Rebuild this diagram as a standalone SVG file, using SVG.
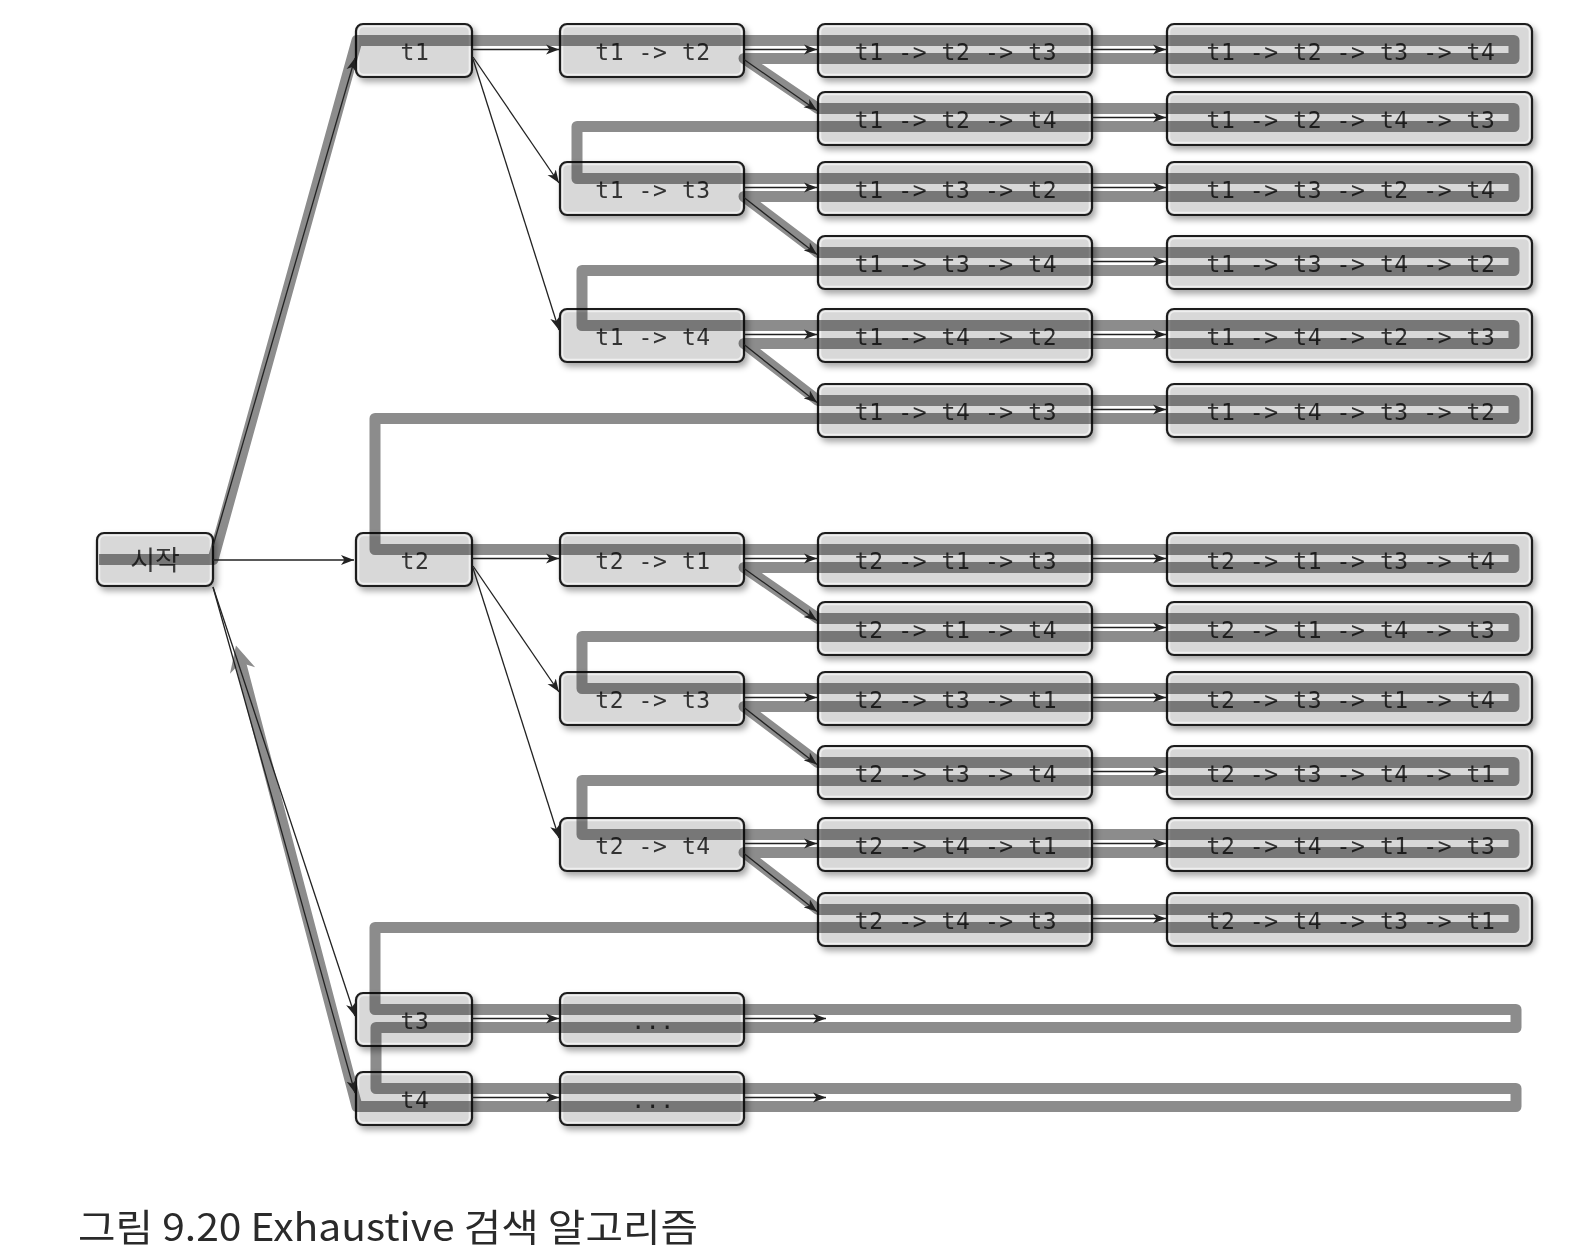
<svg xmlns="http://www.w3.org/2000/svg" width="1576" height="1258" viewBox="0 0 1576 1258">
<style>
.box{fill:#d8d8d8;stroke:#1f1f1f;stroke-width:2.2;filter:url(#sh)}
.hl{fill:none;stroke:#efefef;stroke-width:1.6}
.lbl{font-family:"DejaVu Sans Mono","Liberation Mono",monospace;font-size:23px;letter-spacing:0.6px;fill:#333;text-anchor:middle}
.ko{font-family:"Noto Sans CJK KR","Noto Sans",sans-serif;font-size:27px;fill:#3a3a3a;text-anchor:middle}
.route{fill:none;stroke:#8c8c8c;stroke-width:11;stroke-linejoin:round;marker-end:url(#barr)}
.edge{fill:none;stroke:#222;stroke-width:1.3;marker-end:url(#arr)}
.cap{font-family:"Noto Sans CJK KR","Noto Sans",sans-serif;font-size:38px;fill:#2a2a2a}
</style>
<defs>
<filter id="sh" x="-10%" y="-20%" width="130%" height="160%">
<feDropShadow dx="3" dy="4" stdDeviation="3" flood-color="#000" flood-opacity="0.35"/>
</filter>
<marker id="arr" markerUnits="userSpaceOnUse" markerWidth="14" markerHeight="12" viewBox="0 0 14 12" refX="13" refY="6" orient="auto">
<path d="M0,1 L13,6 L0,11 L3.5,6 z" fill="#222"/>
</marker>
<marker id="barr" markerUnits="userSpaceOnUse" markerWidth="30" markerHeight="30" viewBox="-2 -15 30 30" refX="14" refY="0" orient="auto">
<path d="M0,-13 L26,0 L0,13 L8,0 z" fill="#8c8c8c"/>
</marker>
</defs>
<rect x="0" y="0" width="1576" height="1258" fill="#fff"/>

<g id="nodes">
<g id="n-start"><rect class="box" x="97" y="533" width="116" height="53" rx="7"/><rect class="hl" x="99.5" y="535.5" width="111" height="48" rx="5"/><text class="ko" x="155" y="570">시작</text></g>

<g id="n-t1"><rect class="box" x="356" y="24" width="116" height="53" rx="7"/><rect class="hl" x="358.5" y="26.5" width="111" height="48" rx="5"/><text class="lbl" x="415" y="59.5">t1</text></g>
<g id="n-t2"><rect class="box" x="356" y="533" width="116" height="53" rx="7"/><rect class="hl" x="358.5" y="535.5" width="111" height="48" rx="5"/><text class="lbl" x="415" y="568.5">t2</text></g>
<g id="n-t3"><rect class="box" x="356" y="993" width="116" height="53" rx="7"/><rect class="hl" x="358.5" y="995.5" width="111" height="48" rx="5"/><text class="lbl" x="415" y="1028.5">t3</text></g>
<g id="n-t4"><rect class="box" x="356" y="1072" width="116" height="53" rx="7"/><rect class="hl" x="358.5" y="1074.5" width="111" height="48" rx="5"/><text class="lbl" x="415" y="1107.5">t4</text></g>

<g id="n-t1t2"><rect class="box" x="560" y="24" width="184" height="53" rx="7"/><rect class="hl" x="562.5" y="26.5" width="179" height="48" rx="5"/><text class="lbl" x="653" y="59.5">t1 -&gt; t2</text></g>
<g id="n-t1t3"><rect class="box" x="560" y="162" width="184" height="53" rx="7"/><rect class="hl" x="562.5" y="164.5" width="179" height="48" rx="5"/><text class="lbl" x="653" y="197.5">t1 -&gt; t3</text></g>
<g id="n-t1t4"><rect class="box" x="560" y="309" width="184" height="53" rx="7"/><rect class="hl" x="562.5" y="311.5" width="179" height="48" rx="5"/><text class="lbl" x="653" y="344.5">t1 -&gt; t4</text></g>
<g id="n-t2t1"><rect class="box" x="560" y="533" width="184" height="53" rx="7"/><rect class="hl" x="562.5" y="535.5" width="179" height="48" rx="5"/><text class="lbl" x="653" y="568.5">t2 -&gt; t1</text></g>
<g id="n-t2t3"><rect class="box" x="560" y="672" width="184" height="53" rx="7"/><rect class="hl" x="562.5" y="674.5" width="179" height="48" rx="5"/><text class="lbl" x="653" y="707.5">t2 -&gt; t3</text></g>
<g id="n-t2t4"><rect class="box" x="560" y="818" width="184" height="53" rx="7"/><rect class="hl" x="562.5" y="820.5" width="179" height="48" rx="5"/><text class="lbl" x="653" y="853.5">t2 -&gt; t4</text></g>
<g id="n-t3x"><rect class="box" x="560" y="993" width="184" height="53" rx="7"/><rect class="hl" x="562.5" y="995.5" width="179" height="48" rx="5"/><text class="lbl" x="653" y="1028.5">...</text></g>
<g id="n-t4x"><rect class="box" x="560" y="1072" width="184" height="53" rx="7"/><rect class="hl" x="562.5" y="1074.5" width="179" height="48" rx="5"/><text class="lbl" x="653" y="1107.5">...</text></g>

<g id="n-t1t2t3"><rect class="box" x="818" y="24" width="274" height="53" rx="7"/><rect class="hl" x="820.5" y="26.5" width="269" height="48" rx="5"/><text class="lbl" x="956" y="59.5">t1 -&gt; t2 -&gt; t3</text></g>
<g id="n-t1t2t4"><rect class="box" x="818" y="92" width="274" height="53" rx="7"/><rect class="hl" x="820.5" y="94.5" width="269" height="48" rx="5"/><text class="lbl" x="956" y="127.5">t1 -&gt; t2 -&gt; t4</text></g>
<g id="n-t1t3t2"><rect class="box" x="818" y="162" width="274" height="53" rx="7"/><rect class="hl" x="820.5" y="164.5" width="269" height="48" rx="5"/><text class="lbl" x="956" y="197.5">t1 -&gt; t3 -&gt; t2</text></g>
<g id="n-t1t3t4"><rect class="box" x="818" y="236" width="274" height="53" rx="7"/><rect class="hl" x="820.5" y="238.5" width="269" height="48" rx="5"/><text class="lbl" x="956" y="271.5">t1 -&gt; t3 -&gt; t4</text></g>
<g id="n-t1t4t2"><rect class="box" x="818" y="309" width="274" height="53" rx="7"/><rect class="hl" x="820.5" y="311.5" width="269" height="48" rx="5"/><text class="lbl" x="956" y="344.5">t1 -&gt; t4 -&gt; t2</text></g>
<g id="n-t1t4t3"><rect class="box" x="818" y="384" width="274" height="53" rx="7"/><rect class="hl" x="820.5" y="386.5" width="269" height="48" rx="5"/><text class="lbl" x="956" y="419.5">t1 -&gt; t4 -&gt; t3</text></g>
<g id="n-t2t1t3"><rect class="box" x="818" y="533" width="274" height="53" rx="7"/><rect class="hl" x="820.5" y="535.5" width="269" height="48" rx="5"/><text class="lbl" x="956" y="568.5">t2 -&gt; t1 -&gt; t3</text></g>
<g id="n-t2t1t4"><rect class="box" x="818" y="602" width="274" height="53" rx="7"/><rect class="hl" x="820.5" y="604.5" width="269" height="48" rx="5"/><text class="lbl" x="956" y="637.5">t2 -&gt; t1 -&gt; t4</text></g>
<g id="n-t2t3t1"><rect class="box" x="818" y="672" width="274" height="53" rx="7"/><rect class="hl" x="820.5" y="674.5" width="269" height="48" rx="5"/><text class="lbl" x="956" y="707.5">t2 -&gt; t3 -&gt; t1</text></g>
<g id="n-t2t3t4"><rect class="box" x="818" y="746" width="274" height="53" rx="7"/><rect class="hl" x="820.5" y="748.5" width="269" height="48" rx="5"/><text class="lbl" x="956" y="781.5">t2 -&gt; t3 -&gt; t4</text></g>
<g id="n-t2t4t1"><rect class="box" x="818" y="818" width="274" height="53" rx="7"/><rect class="hl" x="820.5" y="820.5" width="269" height="48" rx="5"/><text class="lbl" x="956" y="853.5">t2 -&gt; t4 -&gt; t1</text></g>
<g id="n-t2t4t3"><rect class="box" x="818" y="893" width="274" height="53" rx="7"/><rect class="hl" x="820.5" y="895.5" width="269" height="48" rx="5"/><text class="lbl" x="956" y="928.5">t2 -&gt; t4 -&gt; t3</text></g>

<g id="n-t1t2t3t4"><rect class="box" x="1167" y="24" width="365" height="53" rx="7"/><rect class="hl" x="1169.5" y="26.5" width="360" height="48" rx="5"/><text class="lbl" x="1351" y="59.5">t1 -&gt; t2 -&gt; t3 -&gt; t4</text></g>
<g id="n-t1t2t4t3"><rect class="box" x="1167" y="92" width="365" height="53" rx="7"/><rect class="hl" x="1169.5" y="94.5" width="360" height="48" rx="5"/><text class="lbl" x="1351" y="127.5">t1 -&gt; t2 -&gt; t4 -&gt; t3</text></g>
<g id="n-t1t3t2t4"><rect class="box" x="1167" y="162" width="365" height="53" rx="7"/><rect class="hl" x="1169.5" y="164.5" width="360" height="48" rx="5"/><text class="lbl" x="1351" y="197.5">t1 -&gt; t3 -&gt; t2 -&gt; t4</text></g>
<g id="n-t1t3t4t2"><rect class="box" x="1167" y="236" width="365" height="53" rx="7"/><rect class="hl" x="1169.5" y="238.5" width="360" height="48" rx="5"/><text class="lbl" x="1351" y="271.5">t1 -&gt; t3 -&gt; t4 -&gt; t2</text></g>
<g id="n-t1t4t2t3"><rect class="box" x="1167" y="309" width="365" height="53" rx="7"/><rect class="hl" x="1169.5" y="311.5" width="360" height="48" rx="5"/><text class="lbl" x="1351" y="344.5">t1 -&gt; t4 -&gt; t2 -&gt; t3</text></g>
<g id="n-t1t4t3t2"><rect class="box" x="1167" y="384" width="365" height="53" rx="7"/><rect class="hl" x="1169.5" y="386.5" width="360" height="48" rx="5"/><text class="lbl" x="1351" y="419.5">t1 -&gt; t4 -&gt; t3 -&gt; t2</text></g>
<g id="n-t2t1t3t4"><rect class="box" x="1167" y="533" width="365" height="53" rx="7"/><rect class="hl" x="1169.5" y="535.5" width="360" height="48" rx="5"/><text class="lbl" x="1351" y="568.5">t2 -&gt; t1 -&gt; t3 -&gt; t4</text></g>
<g id="n-t2t1t4t3"><rect class="box" x="1167" y="602" width="365" height="53" rx="7"/><rect class="hl" x="1169.5" y="604.5" width="360" height="48" rx="5"/><text class="lbl" x="1351" y="637.5">t2 -&gt; t1 -&gt; t4 -&gt; t3</text></g>
<g id="n-t2t3t1t4"><rect class="box" x="1167" y="672" width="365" height="53" rx="7"/><rect class="hl" x="1169.5" y="674.5" width="360" height="48" rx="5"/><text class="lbl" x="1351" y="707.5">t2 -&gt; t3 -&gt; t1 -&gt; t4</text></g>
<g id="n-t2t3t4t1"><rect class="box" x="1167" y="746" width="365" height="53" rx="7"/><rect class="hl" x="1169.5" y="748.5" width="360" height="48" rx="5"/><text class="lbl" x="1351" y="781.5">t2 -&gt; t3 -&gt; t4 -&gt; t1</text></g>
<g id="n-t2t4t1t3"><rect class="box" x="1167" y="818" width="365" height="53" rx="7"/><rect class="hl" x="1169.5" y="820.5" width="360" height="48" rx="5"/><text class="lbl" x="1351" y="853.5">t2 -&gt; t4 -&gt; t1 -&gt; t3</text></g>
<g id="n-t2t4t3t1"><rect class="box" x="1167" y="893" width="365" height="53" rx="7"/><rect class="hl" x="1169.5" y="895.5" width="360" height="48" rx="5"/><text class="lbl" x="1351" y="928.5">t2 -&gt; t4 -&gt; t3 -&gt; t1</text></g>
</g>

<g id="connectors">
<g id="route" style="mix-blend-mode:multiply">
<path class="route" d="M 99 559.5 L 213 559.5 L 357 40.5 L 1514 40.5 L 1514 58.5 L 744 58.5 L 818 108.5 L 1514 108.5 L 1514 126.5 L 577 126.5 L 577 178.5 L 1514 178.5 L 1514 196.5 L 744 196.5 L 818 252.5 L 1514 252.5 L 1514 270.5 L 582 270.5 L 582 325.5 L 1514 325.5 L 1514 343.5 L 744 343.5 L 818 400.5 L 1514 400.5 L 1514 418.5 L 375 418.5 L 375 549.5 L 1514 549.5 L 1514 567.5 L 744 567.5 L 818 618.5 L 1514 618.5 L 1514 636.5 L 582 636.5 L 582 688.5 L 1514 688.5 L 1514 706.5 L 744 706.5 L 818 762.5 L 1514 762.5 L 1514 780.5 L 582 780.5 L 582 834.5 L 1514 834.5 L 1514 852.5 L 744 852.5 L 818 909.5 L 1514 909.5 L 1514 927.5 L 375 927.5 L 375 1009.5 L 1516 1009.5 L 1516 1027.5 L 376 1027.5 L 376 1088.5 L 1516 1088.5 L 1516 1106.5 L 357 1106.5 L 239 657"/>
</g>
<g id="edges">
<path class="edge" d="M213 546 L355 58"/>
<path class="edge" d="M213 560 L354 560"/>
<path class="edge" d="M213 587 L355 1016"/>
<path class="edge" d="M213 587 L355 1093"/>
<path class="edge" d="M472 49.5 L559 49.5"/>
<path class="edge" d="M473 57 L559 183"/>
<path class="edge" d="M473 59 L559 330"/>
<path class="edge" d="M472 558.5 L559 558.5"/>
<path class="edge" d="M473 566 L559 692"/>
<path class="edge" d="M473 568 L559 838"/>
<path class="edge" d="M472 1018.5 L559 1018.5"/>
<path class="edge" d="M472 1097.5 L559 1097.5"/>
<path class="edge" d="M744 1018.5 L826 1018.5"/>
<path class="edge" d="M744 1097.5 L826 1097.5"/>
<path class="edge" d="M744 49.5 L817 49.5"/>
<path class="edge" d="M744 59.5 L817 110.5"/>
<path class="edge" d="M744 187.5 L817 187.5"/>
<path class="edge" d="M744 197.5 L817 254.5"/>
<path class="edge" d="M744 334.5 L817 334.5"/>
<path class="edge" d="M744 344.5 L817 402.5"/>
<path class="edge" d="M744 558.5 L817 558.5"/>
<path class="edge" d="M744 568.5 L817 620.5"/>
<path class="edge" d="M744 697.5 L817 697.5"/>
<path class="edge" d="M744 707.5 L817 764.5"/>
<path class="edge" d="M744 843.5 L817 843.5"/>
<path class="edge" d="M744 853.5 L817 911.5"/>
<path class="edge" d="M1092 49.5 L1166 49.5"/>
<path class="edge" d="M1092 117.5 L1166 117.5"/>
<path class="edge" d="M1092 187.5 L1166 187.5"/>
<path class="edge" d="M1092 261.5 L1166 261.5"/>
<path class="edge" d="M1092 334.5 L1166 334.5"/>
<path class="edge" d="M1092 409.5 L1166 409.5"/>
<path class="edge" d="M1092 558.5 L1166 558.5"/>
<path class="edge" d="M1092 627.5 L1166 627.5"/>
<path class="edge" d="M1092 697.5 L1166 697.5"/>
<path class="edge" d="M1092 771.5 L1166 771.5"/>
<path class="edge" d="M1092 843.5 L1166 843.5"/>
<path class="edge" d="M1092 918.5 L1166 918.5"/>
</g>
</g>

<text class="cap" x="78" y="1241" textLength="620" lengthAdjust="spacingAndGlyphs">그림 9.20 Exhaustive 검색 알고리즘</text>
</svg>
